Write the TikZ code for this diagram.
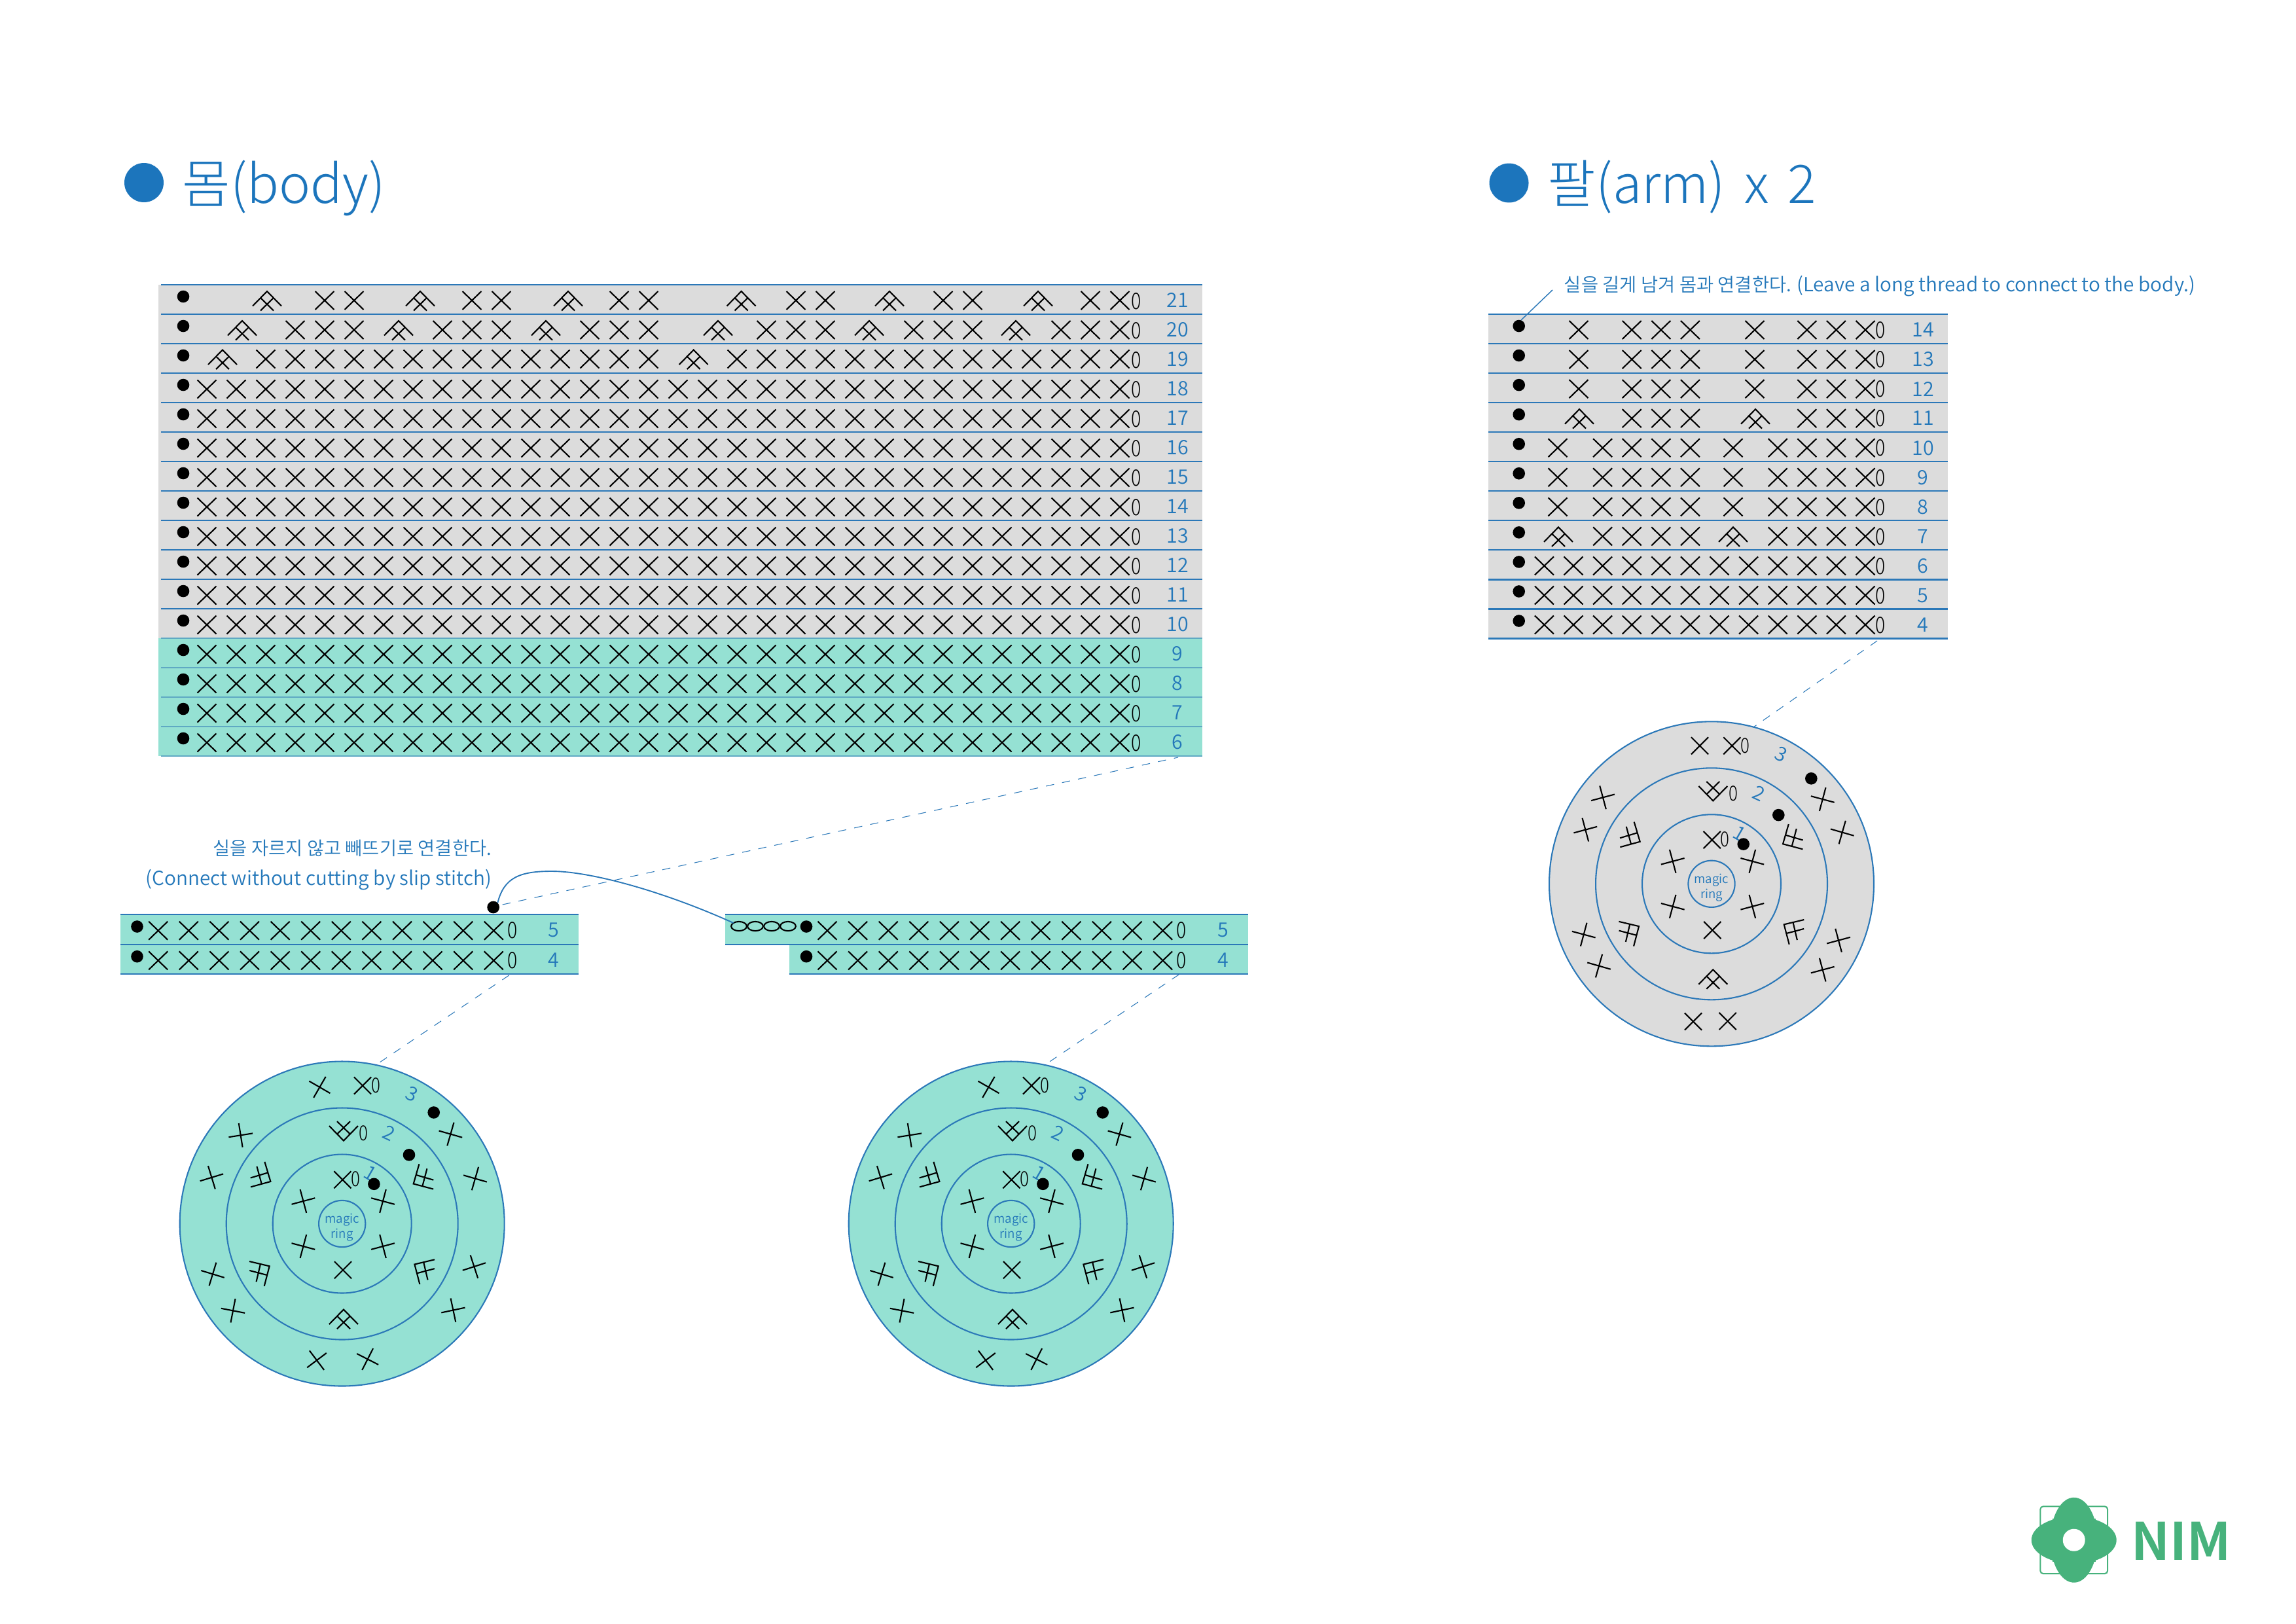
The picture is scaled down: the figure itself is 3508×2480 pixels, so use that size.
\documentclass[tikz,border=0pt]{standalone}
\usepackage{fontspec}
\setmainfont{Noto Sans CJK KR Light}
\newfontfamily\krd{Noto Sans CJK KR DemiLight}
\newfontfamily\logofont{Noto Sans CJK KR Bold}
\usetikzlibrary{shapes.geometric}
\definecolor{rowgray}{HTML}{DCDCDC}
\definecolor{teal}{HTML}{95E1D3}
\definecolor{blueln}{HTML}{2B78B8}
\definecolor{tealln}{HTML}{5FA9C3}
\definecolor{bluetx}{HTML}{2478BA}
\definecolor{bluett}{HTML}{1C75BC}
\definecolor{logogreen}{HTML}{47B27C}
\newcommand\ltn[1]{{\fontsize{7.13}{8}\selectfont #1}}
\newcommand\ttn[1]{{\fontsize{19.45}{22}\selectfont #1}}
\tikzset{
 st/.style={line width=.5pt,black},
 ln/.style={line width=.5pt,blueln},
 dsh/.style={line width=.25pt,blueln,dash pattern=on 3pt off 3pt},
 lab/.style={text=bluetx,inner sep=0pt,font=\krd\fontsize{7.3}{8}\selectfont},
 numr/.style={text=bluetx,inner sep=0pt,font=\krd\fontsize{7.2}{8}\selectfont},
 zer/.style={text=black,inner sep=0pt,font=\fontsize{8.3}{9}\selectfont},
 zerc/.style={text=black,inner sep=0pt,font=\fontsize{7.6}{8}\selectfont},
 note/.style={text=bluetx,inner sep=0pt,font=\krd\fontsize{6.83}{8}\selectfont},
 ttl/.style={text=bluett,inner sep=0pt,anchor=base west,font=\fontsize{19.2}{22}\selectfont},
 ringc/.style={circle,draw=blueln,line width=.5pt,inner sep=0pt,outer sep=0pt},
}
\newcommand\zro{\scalebox{.82}[1]{0}}
\newcommand\xx[2]{\draw[st] ({#1-14.5},{#2-14})--({#1+14.5},{#2+14}) ({#1+14.5},{#2-14})--({#1-14.5},{#2+14});}
\newcommand\dotm[2]{\fill[black] (#1,#2) circle[radius=9.3];}
\newcommand\treem[3]{\begin{scope}[shift={(#1,#2)},rotate=#3]
 \draw[st] (-22,22.5)--(0,0)--(22,22.5) (-9,11)--(10,29.5) (9,11)--(-10,29.5);\end{scope}}
\newcommand\crs[3]{\begin{scope}[shift={(#1,#2)},rotate=#3]
 \draw[st] (-18.5,0)--(18.5,0) (0,-18.5)--(0,18.5);\end{scope}}
\newcommand\ringcore[4]{%
\begin{scope}[shift={(#1,#2)}]
 \node[ringc,fill=#4,minimum size=119.04pt] (#3ringa) at (0,0) {};
 \node[ringc,minimum size=84.96pt] (#3ringb) at (0,0) {};
 \node[ringc,minimum size=50.88pt] (#3ringc) at (0,0) {};
 \node[ringc,minimum size=17.1pt] (#3magicring) at (0,0) {};
 \node[inner sep=0pt,text=bluetx,align=center,font=\krd\fontsize{4.5}{5.5}\selectfont] (#3magic) at (0,5.5) {magic\\ring};
 \crs{0.7}{-67.2}{45}\node[zerc] (#3z1) at (20.7,-68) {\zro};
 \node[numr,rotate=-30] (#3n1) at (43.3,-76.9) {1};
 \dotm{48.7}{-60.7}
 \crs{62.3}{-34.5}{-15}\crs{62.3}{34.5}{15}\crs{1.3}{70.7}{45}\crs{-59.3}{34.5}{-15}\crs{-59.3}{-34.5}{15}
 \treem{2.3}{-126.9}{180}\node[zerc] (#3z2) at (33,-137.9) {\zro};
 \node[numr,rotate=-25] (#3n2) at (72.3,-137.9) {2};
 \dotm{102.3}{-105.2}
 \treem{109}{-61}{119.5}\treem{110.7}{62}{59}\treem{2.3}{131}{0}\treem{-111}{64.8}{-59}\treem{-109.3}{-64.5}{-119}
 \crs{31.3}{-211}{45}\node[zerc] (#3z3) at (51.7,-211) {\zro};
 \node[numr,rotate=-25] (#3n3) at (106.7,-198.3) {3};
\end{scope}}
\newcommand\tealouter[2]{\begin{scope}[shift={(#1,#2)}]
 \crs{-34.3}{-208.6}{-30}\dotm{140}{-170}\crs{165.7}{-136.9}{-16}\crs{203.3}{-69}{-16}\crs{201.7}{65.5}{18}
 \crs{169.7}{132}{12}\crs{39}{206.9}{-27}\crs{-38.7}{208.6}{37}\crs{-166.7}{132.8}{-11}\crs{-197.7}{76.9}{-17}
 \crs{-199.3}{-70.7}{17}\crs{-155}{-135.2}{9}
\end{scope}}
\begin{document}
\begin{tikzpicture}[x=0.24pt,y=-0.24pt]
\useasboundingbox (0,0) rectangle (3508,2480);
% titles
\fill[bluett] (220,279) circle[radius=30];
\node[ttl] (t1) at (278,310) {몸\ttn{(body)}};
\fill[bluett] (2305.5,279.5) circle[radius=30];
\node[ttl] (t2) at (2364,310) {팔\ttn{\spaceskip=.36em (arm) x 2}};
% body table
\foreach \r [count=\i from 0] in {21,20,...,6}{
 \pgfmathsetmacro\ty{435+45*\i}
 \ifnum\r<10 \def\cc{teal}\def\lc{tealln}\else\def\cc{rowgray}\def\lc{blueln}\fi
 \fill[\cc] (242,\ty) rectangle (1837,\ty+45);
 \draw[ln,draw=\lc] (246,\ty)--(1837,\ty);
 \dotm{280}{\ty+18}
 \node[lab] (br\r) at (1799,\ty+23.5) {\r};
 \node[zer] (bz\r) at (1735.6,\ty+25) {\zro};
 \ifnum\r<19
  \foreach \k in {0,...,31}{\xx{316+45*\k}{\ty+24.5}}
 \fi
}
\draw[ln,draw=tealln] (246,1155)--(1837,1155);
\foreach \k in {4,5,9,10,14,15,20,21,25,26,30,31}{\xx{316+45*\k}{459}}
\foreach \t in {408,642,868,1132.6,1359,1586}{\treem{\t}{445}{0}}
\foreach \k in {3,4,5,8,9,10,13,14,15,19,20,21,24,25,26,29,30,31}{\xx{316+45*\k}{504}}
\foreach \t in {370,609,834,1097,1328,1552}{\treem{\t}{490}{0}}
\foreach \k in {2,...,15,18,19,...,31}{\xx{316+45*\k}{548.5}}
\foreach \t in {340,1059.7}{\treem{\t}{534.5}{0}}
\coordinate (bodyend) at (1800,1157);
% arm table
\foreach \r/\sk [count=\i from 0] in {14/a,13/a,12/a,11/b,10/c,9/c,8/c,7/d,6/e,5/e,4/e}{
 \pgfmathsetmacro\ty{480+45.05*\i}
 \fill[rowgray] (2274,\ty) rectangle (2976,\ty+45.05);
 \draw[ln] (2274,\ty)--(2976,\ty);
 \dotm{2320.7}{\ty+18}
 \node[lab] (ar\r) at (2938,\ty+24) {\r};
 \node[zer] (az\r) at (2873,\ty+24.5) {\zro};
 \if\sk e \foreach \k in {0,...,11}{\xx{2850-44.6*\k}{\ty+24}}\fi
 \if\sk a \foreach \k in {0,1,2,6,7,8}{\xx{2850-44.6*\k}{\ty+24}}\xx{2412}{\ty+24}\xx{2681}{\ty+24}\fi
 \if\sk b \foreach \k in {0,1,2,6,7,8}{\xx{2850-44.6*\k}{\ty+24}}\treem{2413}{\ty+10}{0}\treem{2682}{\ty+10}{0}\fi
 \if\sk c \foreach \k in {0,1,2,3,6,7,8,9}{\xx{2850-44.6*\k}{\ty+24}}\xx{2380}{\ty+24}\xx{2648}{\ty+24}\fi
 \if\sk d \foreach \k in {0,1,2,3,6,7,8,9}{\xx{2850-44.6*\k}{\ty+24}}\treem{2381}{\ty+10}{0}\treem{2648}{\ty+10}{0}\fi
}
\draw[ln] (2274,975.5)--(2976,975.5);
\coordinate (armdot) at (2324,489);
\coordinate (armtextend) at (2372,443);
\draw[line width=.35pt,blueln] (armdot)--(armtextend);
\node[note,anchor=west] (armnote) at (2389,437) {실을 길게 남겨 몸과 연결한다. \ltn{(Leave a long thread to connect to the body.)}};
\coordinate (armend) at (2868,979);
% lower left table
\fill[teal] (183.5,1397) rectangle (884,1488);
\draw[ln] (183.5,1397)--(884,1397) (183.5,1442.7)--(884,1442.7) (183.5,1488)--(884,1488);
\foreach \r/\ty in {5/1397,4/1442.7}{
 \dotm{209.5}{\ty+18.5}
 \foreach \k in {0,...,11}{\xx{241.7+46.6*\k}{\ty+24.7}}
 \node[zer] (lz\r) at (782.6,\ty+24.7) {\zro};
 \node[lab] (ll\r) at (846,\ty+24) {\r};
}
\coordinate (lowleft) at (777.7,1490);
% lower right table
\fill[teal] (1108,1397) rectangle (1906.6,1442.7);
\fill[teal] (1205.6,1442.7) rectangle (1906.6,1488);
\draw[ln] (1108,1397)--(1906.6,1397) (1108,1442.7)--(1906.6,1442.7) (1205.6,1488)--(1906.6,1488);
\foreach \r/\ty in {5/1397,4/1442.7}{
 \dotm{1232}{\ty+18.5}
 \foreach \k in {0,...,11}{\xx{1264+46.6*\k}{\ty+24.7}}
 \node[zer] (rz\r) at (1805,\ty+24.7) {\zro};
 \node[lab] (rl\r) at (1869,\ty+24) {\r};
}
\coordinate (lowright) at (1801,1489);
\foreach \n/\x in {1/1129,2/1154,3/1179,4/1204}{
 \node[ellipse,draw=black,line width=.5pt,minimum width=5.7pt,minimum height=3.4pt,inner sep=0pt,outer sep=0pt] (ch\n) at (\x,1415) {};
}
% notes
\node[note,anchor=east] (n1) at (752,1296) {실을 자르지 않고 빼뜨기로 연결한다.};
\node[note,anchor=east] (n2) at (752,1344) {\ltn{(Connect without cutting by slip stitch)}};
% slip dot + curve
\node[circle,fill=black,minimum size=4.5pt,inner sep=0pt,outer sep=0pt] (slipdot) at (753.7,1386) {};
\draw[line width=.45pt,blueln] (slipdot.north east) .. controls (770,1340) and (795,1331) .. (843,1331) .. controls (900,1331) and (1010,1360) .. (ch1.north west);
\draw[dsh] (slipdot)++(14,-4) -- (bodyend);
% rings
\ringcore{522.7}{1869.5}{L}{teal}\tealouter{522.7}{1869.5}
\ringcore{1544.7}{1869.5}{R}{teal}\tealouter{1544.7}{1869.5}
\ringcore{2615}{1350.3}{A}{rowgray}
\begin{scope}[shift={(2615,1350.3)}]
 \crs{-18}{-211}{45}\dotm{152.3}{-161}\crs{169.7}{-129.3}{-15}\crs{199.7}{-78.7}{-16}\crs{194}{86.3}{15}
 \crs{169.7}{131.3}{15}\crs{24.7}{209.7}{45}\crs{-28}{210.3}{45}\crs{-172}{125.3}{-16}\crs{-195.3}{77.3}{-15}
 \crs{-192.7}{-82.7}{15}\crs{-166}{-132}{15}
\end{scope}
\draw[dsh] (lowleft)--(Lringa.78);
\draw[dsh] (lowright)--(Rringa.78);
\draw[dsh] (armend)--(Aringa.75);
% logo
\begin{scope}[shift={(3168.7,2352.7)}]
 \draw[logogreen,line width=.5pt,rounded corners=1pt] (-51.3,-51.3) rectangle (51.3,51.3);
 \fill[logogreen] (0,0) circle[x radius=36,y radius=65];
 \fill[logogreen] (0,0) circle[x radius=65,y radius=36];
 \fill[logogreen] (-33,-33) rectangle (33,33);
 \fill[white] (0,0) circle[radius=17];
\end{scope}
\node[inner sep=0pt,text=logogreen,font=\logofont\fontsize{18.9}{22}\selectfont,anchor=west] (nim) at (3256,2354) {NIM};
\end{tikzpicture}
\end{document}
